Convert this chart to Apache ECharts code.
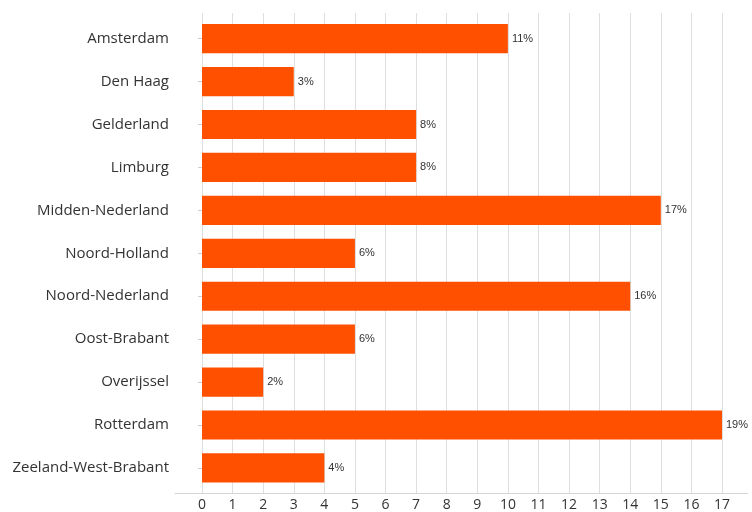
<!DOCTYPE html>
<html>
<head>
<meta charset="utf-8">
<script src="https://cdn.jsdelivr.net/npm/echarts@6/dist/echarts.min.js"></script>
<style>html,body{margin:0;padding:0;background:#fff;}#c{width:752px;height:512px;}</style>
</head>
<body>
<div id="c"></div>
<script>
const categories = ["Amsterdam","Den Haag","Gelderland","Limburg","Midden-Nederland","Noord-Holland","Noord-Nederland","Oost-Brabant","Overijssel","Rotterdam","Zeeland-West-Brabant"];
const counts = [10, 3, 7, 7, 15, 5, 14, 5, 2, 17, 4];
const percentLabels = ["11%","3%","8%","8%","17%","6%","16%","6%","2%","19%","4%"];
const xTicksMin = 0, xTicksMax = 17, xTickStep = 1;

const chart = echarts.init(document.getElementById('c'), null, {renderer: 'canvas'});
const font = '"Open Sans", sans-serif';
chart.setOption({
  animation: false,
  grid: [
    {left: 202, right: 30, top: 17.2, height: 472.2},
    {left: 202, right: 30, top: 13, height: 480},
    {left: 175, right: 4, top: 13, height: 480}
  ],
  xAxis: [
    {gridIndex: 0, type: 'value', min: xTicksMin, max: xTicksMax, show: false},
    {gridIndex: 1, type: 'value', min: xTicksMin, max: xTicksMax, interval: xTickStep,
     axisLine: {show: false}, axisTick: {show: false},
     splitLine: {show: true, lineStyle: {color: '#dedede', width: 1}},
     axisLabel: {fontFamily: font, fontSize: 14, color: '#333', margin: 5}},
    {gridIndex: 2, type: 'value', min: 0, max: 1,
     axisLine: {show: true, lineStyle: {color: '#d6d6d6'}}, axisTick: {show: false},
     axisLabel: {show: false}, splitLine: {show: false}}
  ],
  yAxis: [
    {gridIndex: 0, type: 'category', data: categories, inverse: true, offset: 26,
     axisLine: {show: false},
     axisTick: {show: true, alignWithLabel: true, length: 4, lineStyle: {color: '#cfcfcf'}},
     axisLabel: {fontFamily: font, fontSize: 15, color: '#333', margin: 7}},
    {gridIndex: 1, type: 'value', show: false},
    {gridIndex: 2, type: 'value', show: false}
  ],
  series: [{
    type: 'bar',
    xAxisIndex: 0, yAxisIndex: 0,
    data: counts,
    barCategoryGap: '32%',
    itemStyle: {color: '#ff5000'},
    label: {
      show: true, position: 'right', distance: 4,
      fontFamily: 'Liberation Sans, Arial, sans-serif', fontSize: 11, color: '#333',
      formatter: p => percentLabels[p.dataIndex]
    }
  }]
});
</script>
</body>
</html>
